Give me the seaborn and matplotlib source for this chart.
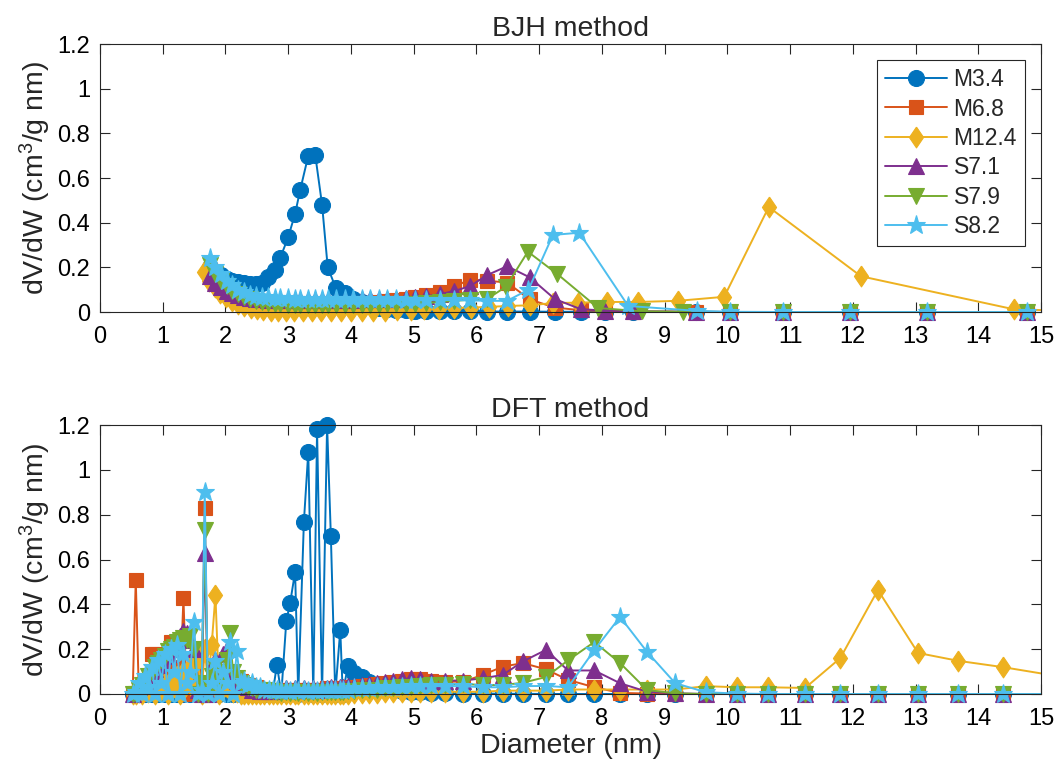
import matplotlib
matplotlib.use("Agg")
import matplotlib.pyplot as plt
import seaborn as sns
import numpy as np
import pandas as pd
from matplotlib.ticker import FuncFormatter, MultipleLocator
from matplotlib.transforms import Bbox, TransformedBbox

# ---------------- data ----------------
series_names = ["M3.4", "M6.8", "M12.4", "S7.1", "S7.9", "S8.2"]

# BJH method: pore diameters (nm) and dV/dW values
bjh_head = [1.75, 1.84, 1.93, 2.02, 2.11, 2.20, 2.30, 2.39, 2.49, 2.58, 2.68,
            2.79, 2.87, 3.00, 3.11, 3.19, 3.32, 3.43, 3.54, 3.63, 3.76, 3.91,
            4.04, 4.17, 4.30, 4.44, 4.58, 4.72, 4.87, 5.02, 5.20, 5.42, 5.65, 5.90]
bjh_tail_m = [6.17, 6.49, 6.85, 7.25, 7.66, 8.05, 8.50, 9.50, 10.04, 10.89, 11.96, 13.18, 14.78]
bjh_tail_s79 = [6.17, 6.47, 6.82, 7.29, 7.94, 8.64, 9.30, 10.04, 10.89, 11.96, 13.18, 14.78]
bjh_tail_s82 = [6.17, 6.49, 6.83, 7.22, 7.64, 8.42, 9.52, 10.04, 10.89, 11.96, 13.18, 14.78]
bjh_d_m124 = [1.65, 1.74, 1.83, 1.92, 2.01, 2.10, 2.20, 2.30, 2.40, 2.50, 2.60,
              2.72, 2.84, 2.97, 3.10, 3.24, 3.38, 3.53, 3.68, 3.84,
              4.00, 4.17, 4.35, 4.54, 4.74, 4.95, 5.17, 5.40, 5.65, 5.92, 6.20, 6.50,
              6.85, 7.22, 7.62, 8.08, 8.58, 9.21, 9.95, 10.66, 12.13, 14.57, 15.60]

bjh_m34 = [0.200, 0.180, 0.165, 0.150, 0.140, 0.135, 0.130, 0.125, 0.125, 0.130, 0.155,
           0.190, 0.240, 0.335, 0.440, 0.545, 0.700, 0.705, 0.480, 0.200, 0.107, 0.085,
           0.060, 0.045, 0.030, 0.020, 0.015, 0.010, 0.008, 0.006, 0.005, 0.004, 0.003, 0.003,
           0.002, 0.002, 0.002, 0.001, 0.001, 0.001, 0.001, 0.000, 0.000, 0.000, 0.000, 0.000, 0.000]
bjh_m68 = [0.190, 0.150, 0.120, 0.100, 0.080, 0.065, 0.055, 0.045, 0.040, 0.035, 0.030,
           0.030, 0.028, 0.027, 0.027, 0.027, 0.028, 0.030, 0.030, 0.032, 0.034, 0.036,
           0.038, 0.040, 0.042, 0.045, 0.048, 0.052, 0.058, 0.065, 0.075, 0.090, 0.115, 0.145,
           0.140, 0.132, 0.056, 0.020, 0.008, 0.004, 0.002, 0.001, 0.000, 0.000, 0.000, 0.000, 0.000]
bjh_m124 = [0.180, 0.140, 0.110, 0.085, 0.065, 0.050, 0.035, 0.025, 0.018, 0.012, 0.008,
            0.005, 0.004, 0.003, 0.003, 0.003, 0.003, 0.003, 0.003, 0.003,
            0.004, 0.004, 0.005, 0.006, 0.008, 0.010, 0.012, 0.015, 0.018, 0.020, 0.023, 0.027,
            0.030, 0.040, 0.042, 0.045, 0.045, 0.050, 0.068, 0.470, 0.160, 0.012, 0.004]
bjh_s71 = [0.160, 0.130, 0.110, 0.095, 0.085, 0.075, 0.068, 0.062, 0.058, 0.056, 0.055,
           0.055, 0.055, 0.055, 0.055, 0.055, 0.055, 0.055, 0.055, 0.055, 0.055, 0.055,
           0.055, 0.056, 0.057, 0.058, 0.059, 0.060, 0.062, 0.065, 0.070, 0.080, 0.094, 0.116,
           0.165, 0.205, 0.155, 0.058, 0.013, 0.006, 0.003, 0.001, 0.000, 0.000, 0.000, 0.000, 0.000]
bjh_s79 = [0.210, 0.170, 0.140, 0.115, 0.095, 0.080, 0.068, 0.058, 0.050, 0.045, 0.040,
           0.037, 0.035, 0.033, 0.032, 0.031, 0.030, 0.030, 0.030, 0.030, 0.030, 0.030,
           0.030, 0.031, 0.032, 0.033, 0.034, 0.035, 0.036, 0.038, 0.040, 0.045, 0.050, 0.055,
           0.058, 0.113, 0.270, 0.170, 0.018, 0.003, 0.001, 0.000, 0.000, 0.000, 0.000, 0.000]
bjh_s82 = [0.240, 0.200, 0.170, 0.140, 0.120, 0.100, 0.088, 0.078, 0.072, 0.068, 0.065,
           0.063, 0.062, 0.061, 0.060, 0.060, 0.060, 0.060, 0.060, 0.060, 0.060, 0.059,
           0.058, 0.058, 0.057, 0.057, 0.056, 0.056, 0.055, 0.055, 0.054, 0.054, 0.053, 0.052,
           0.050, 0.050, 0.100, 0.345, 0.355, 0.027, 0.005, 0.001, 0.000, 0.000, 0.000, 0.000]

# DFT method: shared pore-width grid (nm)
dft_d = [0.52, 0.57, 0.62, 0.67, 0.72, 0.77, 0.83, 0.88, 0.93, 0.98,
         1.03, 1.08, 1.13, 1.18, 1.23, 1.28, 1.33, 1.38, 1.44, 1.50,
         1.56, 1.62, 1.67, 1.72, 1.78, 1.84, 1.90, 1.96, 2.02, 2.07,
         2.12, 2.18, 2.24, 2.30, 2.36, 2.42, 2.48, 2.55, 2.62, 2.69, 2.75,
         2.82, 2.89, 2.97, 3.03, 3.11, 3.16, 3.25, 3.32, 3.40, 3.46,
         3.54, 3.62, 3.68, 3.75, 3.83, 3.87, 3.95, 4.05, 4.17, 4.29,
         4.41, 4.54, 4.67, 4.81, 4.95, 5.10, 5.28,
         5.50, 5.79, 6.10, 6.42, 6.74, 7.11, 7.46, 7.88, 8.29, 8.72,
         9.17, 9.66, 10.15, 10.65, 11.24, 11.80, 12.40, 13.04, 13.68, 14.39, 15.15]

dft_m34 = [0.000, 0.005, 0.000, 0.005, 0.000, 0.005, 0.000, 0.005, 0.000, 0.005,
           0.000, 0.005, 0.000, 0.005, 0.000, 0.005, 0.000, 0.005, 0.000, 0.005,
           0.000, 0.005, 0.000, 0.005, 0.000, 0.005, 0.000, 0.005, 0.000, 0.005,
           0.000, 0.005, 0.000, 0.005, 0.000, 0.005, 0.000, 0.005, 0.000, 0.010, 0.000,
           0.130, 0.000, 0.326, 0.405, 0.545, 0.000, 0.768, 1.080, 0.000, 1.180,
           0.000, 1.200, 0.705, 0.000, 0.286, 0.000, 0.125, 0.095, 0.075, 0.055,
           0.040, 0.030, 0.020, 0.015, 0.010, 0.008, 0.005,
           0.003, 0.002, 0.002, 0.001, 0.001, 0.000, 0.000, 0.000, 0.000, 0.000,
           0.000, 0.000, 0.000, 0.000, 0.000, 0.000, 0.000, 0.000, 0.000, 0.000, 0.000]
dft_m68 = [0.000, 0.510, 0.000, 0.010, 0.020, 0.030, 0.180, 0.180, 0.050, 0.060,
           0.080, 0.100, 0.230, 0.120, 0.100, 0.050, 0.430, 0.000, 0.050, 0.100,
           0.030, 0.000, 0.830, 0.000, 0.050, 0.100, 0.040, 0.080, 0.050, 0.100,
           0.060, 0.040, 0.060, 0.030, 0.040, 0.020, 0.030, 0.020, 0.020, 0.015, 0.015,
           0.020, 0.010, 0.020, 0.015, 0.020, 0.010, 0.020, 0.015, 0.020, 0.020,
           0.020, 0.025, 0.020, 0.025, 0.025, 0.020, 0.030, 0.030, 0.035, 0.040,
           0.045, 0.050, 0.055, 0.060, 0.065, 0.065, 0.060,
           0.055, 0.055, 0.085, 0.122, 0.138, 0.110, 0.063, 0.030, 0.005, 0.002,
           0.000, 0.000, 0.000, 0.000, 0.000, 0.000, 0.000, 0.000, 0.000, 0.000, 0.000]
dft_m124 = [0.000, 0.000, 0.010, 0.000, 0.020, 0.010, 0.030, 0.000, 0.040, 0.020,
            0.050, 0.000, 0.060, 0.030, 0.080, 0.000, 0.100, 0.050, 0.120, 0.020,
            0.150, 0.000, 0.200, 0.050, 0.220, 0.440, 0.000, 0.050, 0.030, 0.020,
            0.010, 0.010, 0.000, 0.000, 0.000, 0.000, 0.000, 0.000, 0.000, 0.000, 0.000,
            0.000, 0.000, 0.000, 0.000, 0.000, 0.000, 0.000, 0.000, 0.000, 0.000,
            0.000, 0.000, 0.000, 0.000, 0.000, 0.000, 0.002, 0.003, 0.004, 0.005,
            0.006, 0.007, 0.008, 0.008, 0.009, 0.010, 0.010,
            0.010, 0.010, 0.010, 0.015, 0.015, 0.015, 0.020, 0.020, 0.020, 0.020,
            0.020, 0.035, 0.030, 0.030, 0.027, 0.160, 0.464, 0.183, 0.148, 0.120, 0.085]
dft_s71 = [0.000, 0.020, 0.030, 0.050, 0.060, 0.080, 0.100, 0.110, 0.130, 0.150,
           0.170, 0.180, 0.200, 0.220, 0.240, 0.260, 0.280, 0.270, 0.240, 0.200,
           0.020, 0.000, 0.630, 0.000, 0.100, 0.150, 0.120, 0.180, 0.200, 0.100,
           0.080, 0.060, 0.050, 0.040, 0.030, 0.020, 0.020, 0.015, 0.015, 0.015, 0.015,
           0.020, 0.020, 0.025, 0.020, 0.025, 0.020, 0.025, 0.020, 0.025, 0.020,
           0.025, 0.025, 0.030, 0.025, 0.030, 0.030, 0.035, 0.035, 0.040, 0.045,
           0.050, 0.055, 0.060, 0.065, 0.070, 0.065, 0.060,
           0.060, 0.060, 0.070, 0.085, 0.145, 0.197, 0.105, 0.105, 0.048, 0.010,
           0.003, 0.000, 0.000, 0.000, 0.000, 0.000, 0.000, 0.000, 0.000, 0.000, 0.000]
dft_s79 = [0.000, 0.000, 0.020, 0.040, 0.060, 0.080, 0.100, 0.120, 0.140, 0.150,
           0.170, 0.190, 0.200, 0.210, 0.230, 0.240, 0.250, 0.240, 0.260, 0.200,
           0.000, 0.050, 0.730, 0.000, 0.080, 0.120, 0.050, 0.100, 0.150, 0.270,
           0.100, 0.070, 0.050, 0.040, 0.030, 0.025, 0.020, 0.020, 0.020, 0.015, 0.015,
           0.010, 0.005, 0.010, 0.005, 0.010, 0.005, 0.010, 0.005, 0.010, 0.005,
           0.010, 0.010, 0.010, 0.010, 0.010, 0.010, 0.015, 0.015, 0.020, 0.020,
           0.020, 0.025, 0.025, 0.030, 0.030, 0.035, 0.040,
           0.040, 0.045, 0.040, 0.040, 0.050, 0.076, 0.150, 0.232, 0.138, 0.018,
           0.003, 0.000, 0.000, 0.000, 0.000, 0.000, 0.000, 0.000, 0.000, 0.000, 0.000]
dft_s82 = [0.000, 0.010, 0.050, 0.000, 0.080, 0.030, 0.120, 0.000, 0.150, 0.050,
           0.180, 0.000, 0.200, 0.100, 0.220, 0.000, 0.180, 0.050, 0.100, 0.320,
           0.000, 0.020, 0.900, 0.000, 0.050, 0.145, 0.000, 0.100, 0.050, 0.230,
           0.000, 0.190, 0.050, 0.060, 0.040, 0.050, 0.030, 0.030, 0.020, 0.020, 0.020,
           0.020, 0.015, 0.020, 0.015, 0.020, 0.015, 0.020, 0.015, 0.020, 0.015,
           0.020, 0.020, 0.020, 0.020, 0.020, 0.020, 0.020, 0.025, 0.025, 0.025,
           0.030, 0.030, 0.030, 0.030, 0.035, 0.035, 0.035,
           0.035, 0.035, 0.030, 0.030, 0.035, 0.036, 0.030, 0.196, 0.344, 0.188,
           0.048, 0.008, 0.002, 0.000, 0.000, 0.000, 0.000, 0.000, 0.000, 0.000, 0.000]

x_ticks = list(range(0, 16))
y_ticks = [0, 0.2, 0.4, 0.6, 0.8, 1.0, 1.2]

# ---------------- style ----------------
sns.set_theme(style="white")
plt.rcParams["font.family"] = ["Liberation Sans", "DejaVu Sans"]
plt.rcParams["mathtext.fontset"] = "custom"
plt.rcParams["mathtext.rm"] = "Liberation Sans"
plt.rcParams["mathtext.default"] = "regular"

colors = ["#0072BD", "#D95319", "#EDB120", "#7E2F8E", "#77AC30", "#4DBEEE"]
diamond = [(0, 1), (0.68, 0), (0, -1), (-0.68, 0), (0, 1)]
markers = ["o", "s", diamond, "^", "v", "*"]
msizes = [11.5, 9.5, 15, 11.5, 11.5, 14]
axis_col = "#262626"
TICK_FS = 17
LABEL_FS = 20.5
LEG_FS = 16.5

bjh_x = [bjh_head + bjh_tail_m, bjh_head + bjh_tail_m, bjh_d_m124,
         bjh_head + bjh_tail_m, bjh_head + bjh_tail_s79, bjh_head + bjh_tail_s82]
bjh_y = [bjh_m34, bjh_m68, bjh_m124, bjh_s71, bjh_s79, bjh_s82]
dft_y = [dft_m34, dft_m68, dft_m124, dft_s71, dft_s79, dft_s82]

fig = plt.figure(figsize=(10.6, 7.73), dpi=100)
ax1 = fig.add_axes([100 / 1060, 1 - 312 / 773, 941 / 1060, 268 / 773])
ax2 = fig.add_axes([100 / 1060, 1 - 694 / 773, 941 / 1060, 269 / 773])


def draw(ax, xs, ys, with_label):
    for i, name in enumerate(series_names):
        sns.lineplot(x=xs[i], y=ys[i], ax=ax, color=colors[i], marker=markers[i],
                     markersize=msizes[i], markeredgecolor=colors[i], markerfacecolor=colors[i],
                     markeredgewidth=0.8, linewidth=1.4, sort=False, estimator=None,
                     errorbar=None, label=name if with_label else None, legend=False)
    clip = TransformedBbox(Bbox([[0, -0.08], [1, 1.05]]), ax.transAxes)
    for ln in ax.lines:
        ln.set_clip_box(clip)


draw(ax1, bjh_x, bjh_y, True)
draw(ax2, [dft_d] * 6, dft_y, False)

fmt = FuncFormatter(lambda v, p: f"{v:g}")
for ax, title in [(ax1, "BJH method"), (ax2, "DFT method")]:
    ax.set_xlim(0, 15)
    ax.set_ylim(0, 1.2)
    ax.set_xticks(x_ticks)
    ax.set_yticks(y_ticks)
    ax.yaxis.set_major_formatter(fmt)
    ax.tick_params(direction="in", length=7, width=0.8, colors=axis_col,
                   labelcolor="black", labelsize=TICK_FS, top=True, right=True,
                   bottom=True, left=True)
    ax.tick_params(axis="x", pad=10)
    ax.tick_params(axis="y", pad=7)
    for sp in ax.spines.values():
        sp.set_visible(True)
        sp.set_color(axis_col)
        sp.set_linewidth(0.8)
    ax.set_title(title, fontsize=LABEL_FS, pad=6)
    ax.set_ylabel("dV/dW (cm$^{3}$/g nm)", fontsize=LABEL_FS, labelpad=3)
    ax.set_xlabel("")
    ax.grid(False)

ax2.set_xlabel("Diameter (nm)", fontsize=LABEL_FS, labelpad=2)

leg = ax1.legend(loc="upper right", bbox_to_anchor=(0.983, 0.94), borderaxespad=0,
                 frameon=True, fancybox=False, edgecolor=axis_col, framealpha=1,
                 fontsize=LEG_FS, handlelength=2.7, labelspacing=0.28,
                 borderpad=0.35, handletextpad=0.3, numpoints=1)
leg.get_frame().set_linewidth(0.8)

fig.savefig("out.png", dpi=100)
